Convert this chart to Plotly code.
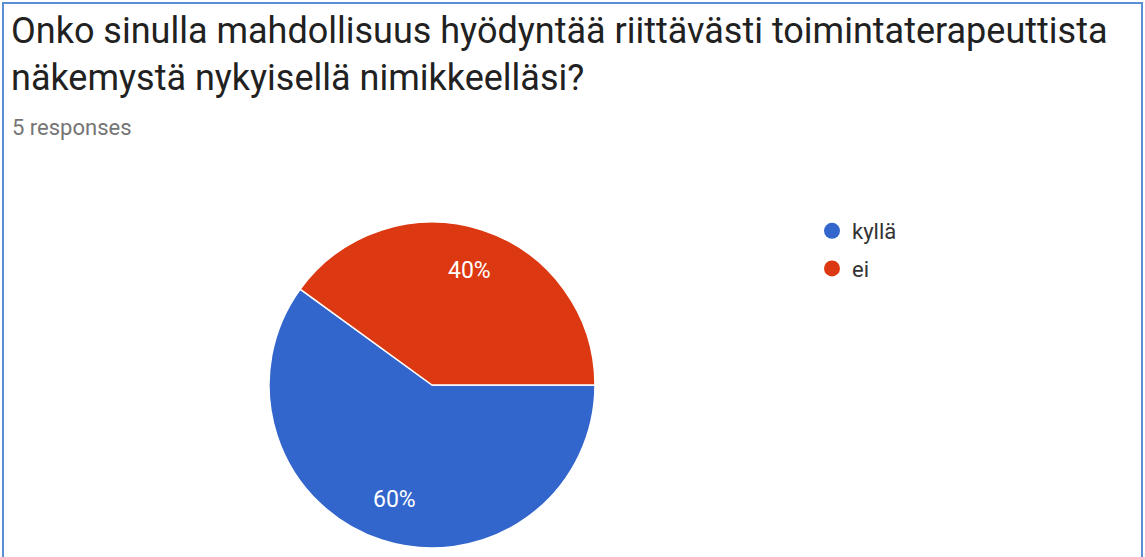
import math
import plotly.graph_objects as go

# Survey result: "Onko sinulla mahdollisuus hyödyntää ..." (5 responses)
categories = ["kyllä", "ei"]
counts = [3, 2]
colors = ["#3366cc", "#dc3912"]

title_line1 = "Onko sinulla mahdollisuus hyödyntää riittävästi toimintaterapeuttista"
title_line2 = "näkemystä nykyisellä nimikkeelläsi?"
subtitle = f"{sum(counts)} responses"

W, H = 1145, 557

# Pie geometry in pixels (paper has zero margins)
PIE_LEFT, PIE_RIGHT, PIE_TOP, PIE_BOTTOM = 269, 595, 222, 548
START_DEG = 90          # first slice starts at 3 o'clock, going clockwise
LABEL_RADIUS = 0.74     # share of the radius where percent labels sit

fig = go.Figure()

fig.add_trace(go.Pie(
    labels=categories,
    values=counts,
    sort=False,
    direction="clockwise",
    rotation=START_DEG,
    marker=dict(colors=colors, line=dict(color="white", width=1.5)),
    textinfo="none",
    hoverinfo="label+percent",
    showlegend=False,
    domain=dict(x=[PIE_LEFT / W, PIE_RIGHT / W],
                y=[(H - PIE_BOTTOM) / H, (H - PIE_TOP) / H]),
))

# Circle legend entries
for name, col in zip(categories, colors):
    fig.add_trace(go.Scatter(
        x=[None], y=[None], mode="markers", name=name,
        marker=dict(color=col, size=17, symbol="circle"),
        legendgroup=name,
    ))

# Percent labels placed along each slice's mid-angle
total = sum(counts)
cx = (PIE_LEFT + PIE_RIGHT) / 2
cy = (PIE_TOP + PIE_BOTTOM) / 2
r = (PIE_RIGHT - PIE_LEFT) / 2
pct_annotations = []
cum = 0.0
for v in counts:
    frac = v / total
    theta = math.radians(START_DEG + 360 * (cum + frac / 2))
    px = cx + math.sin(theta) * r * LABEL_RADIUS
    py = cy - math.cos(theta) * r * LABEL_RADIUS
    pct_annotations.append(dict(
        text=f"{round(frac * 100)}%", x=px / W, y=1 - py / H,
        xref="paper", yref="paper", xanchor="center", yanchor="middle",
        showarrow=False, font=dict(family="Roboto", size=23, color="white"),
    ))
    cum += frac

fig.update_layout(
    width=W, height=H,
    margin=dict(l=0, r=0, t=0, b=0),
    paper_bgcolor="white",
    plot_bgcolor="white",
    xaxis=dict(visible=False),
    yaxis=dict(visible=False),
    legend=dict(
        x=812 / W, y=1 - 210 / H, xanchor="left", yanchor="top",
        font=dict(family="Roboto", size=22, color="#333333"),
        tracegroupgap=6,
        itemclick=False,
    ),
    annotations=[
        dict(text=title_line1, x=9 / W, y=1 - 31 / H, xref="paper", yref="paper",
             xanchor="left", yanchor="middle", showarrow=False,
             font=dict(family="Roboto", size=36, color="#212121")),
        dict(text=title_line2, x=9 / W, y=1 - 78 / H, xref="paper", yref="paper",
             xanchor="left", yanchor="middle", showarrow=False,
             font=dict(family="Roboto", size=36, color="#212121")),
        dict(text=subtitle, x=10 / W, y=1 - 127 / H, xref="paper", yref="paper",
             xanchor="left", yanchor="middle", showarrow=False,
             font=dict(family="Roboto", size=22, color="#757575")),
    ] + pct_annotations,
    shapes=[
        dict(type="rect", xref="paper", yref="paper",
             x0=3 / W, x1=1142 / W, y0=-0.05, y1=1 - 3 / H,
             line=dict(color="#5b8fd4", width=2), fillcolor="rgba(0,0,0,0)"),
    ],
)

fig.write_html("out.html")
